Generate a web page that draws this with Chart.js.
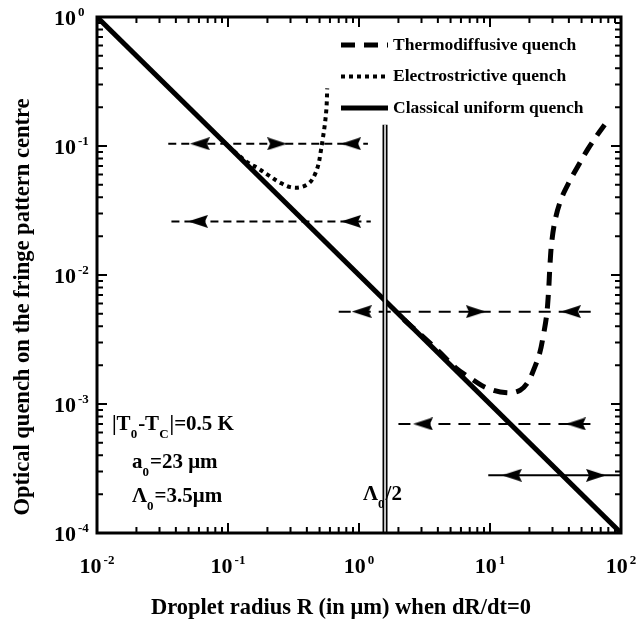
<!DOCTYPE html>
<html>
<head>
<meta charset="utf-8">
<script src="https://cdn.jsdelivr.net/npm/chart.js@4/dist/chart.umd.min.js"></script>
<style>
  html, body { margin: 0; padding: 0; background: #fff; }
  #wrap { width: 636px; height: 622px; position: relative; }
</style>
</head>
<body>
<div id="wrap"><canvas id="quenchChart"></canvas></div>
<script>
// decade labels on both axes
const xDecades = [-2, -1, 0, 1, 2];
const yDecades = [0, -1, -2, -3, -4];

// classical uniform quench (slope -1)
const classicalR = [0.01, 100];
const classicalQ = [1, 0.0001];

// electrostrictive quench
const electroR = [0.09, 0.11, 0.14, 0.17, 0.2, 0.25, 0.3, 0.36, 0.42, 0.46, 0.49, 0.51, 0.53, 0.55, 0.565, 0.572];
const electroQ = [0.111, 0.092, 0.075, 0.067, 0.06, 0.052, 0.048, 0.048, 0.052, 0.06, 0.072, 0.09, 0.115, 0.15, 0.2, 0.28];

// thermodiffusive quench
const thermoR = [2.2, 3, 4, 5.5, 7, 9.5, 13.5, 17, 19.5, 22, 24, 25.4, 27, 28, 28.7, 29.6, 31.5, 35, 40, 47, 56, 66, 75];
const thermoQ = [0.0045, 0.0034, 0.0026, 0.0019, 0.0016, 0.00133, 0.00122, 0.00128, 0.00148, 0.00194, 0.0025, 0.0033, 0.0048, 0.0075, 0.012, 0.018, 0.027, 0.039, 0.052, 0.07, 0.095, 0.122, 0.146];

// Λ0/2 marker
const lambdaR = [1.58, 1.58];
const lambdaQ = [0.146, 0.0001];

// stability arrows: level, extent, heads (+1 right, -1 left)
const arrowLevels = [0.104, 0.026, 0.0052, 0.0007, 0.00028];
const arrowFrom = [0.035, 0.037, 0.70, 2.0, 9.7];
const arrowTo = [1.17, 1.23, 65, 64, 100];
const arrowHeadR = [[0.061, 0.237, 0.87], [0.059, 0.87], [1.05, 7.8, 41.5], [3.08, 45.3], [14.7, 64.4]];
const arrowHeadDir = [[-1, 1, -1], [-1, -1], [-1, 1, -1], [-1, -1], [-1, 1]];
const arrowDash = [[8, 5], [8, 5], [12, 8], [12, 8], []];

const SERIF = '"Liberation Serif", "Times New Roman", serif';

function zip(xs, ys) {
    return xs.map((v, i) => ({ x: v, y: ys[i] }));
}

// filled arrowhead pointing right, used as point style
function makeHead() {
    const c = document.createElement('canvas');
    c.width = 20; c.height = 13;
    const g = c.getContext('2d');
    g.fillStyle = '#000';
    g.beginPath();
    g.moveTo(20, 6.5);
    g.lineTo(0, 0);
    g.lineTo(3, 6.5);
    g.lineTo(0, 13);
    g.closePath();
    g.fill();
    return c;
}
const headImg = makeHead();

function arrowDataset(i) {
    const pts = [{ x: arrowFrom[i], y: arrowLevels[i], r: 0, d: 0 }];
    arrowHeadR[i].forEach((r, k) => pts.push({ x: r, y: arrowLevels[i], r: 1, d: arrowHeadDir[i][k] }));
    pts.push({ x: arrowTo[i], y: arrowLevels[i], r: 0, d: 0 });
    pts.sort((a, b) => a.x - b.x);
    return {
        data: pts.map(p => ({ x: p.x, y: p.y })),
        borderColor: '#000',
        borderWidth: 2,
        borderDash: arrowDash[i],
        pointStyle: headImg,
        pointRadius: pts.map(p => p.r ? 10 : 0),
        pointRotation: pts.map(p => p.d < 0 ? 180 : 0),
        tension: 0
    };
}

function drawRich(ctx, parts, x, y, size) {
    let cx = x;
    parts.forEach(p => {
        const small = p.s ? Math.round(size * 0.6) : size;
        const dy = p.s === 'sub' ? size * 0.38 : p.s === 'sup' ? -size * 0.42 : 0;
        ctx.font = `bold ${small}px ${SERIF}`;
        ctx.fillText(p.t, cx, y + dy);
        cx += ctx.measureText(p.t).width + (p.gap || 0);
    });
    return cx - x;
}

function richWidth(ctx, parts, size) {
    let w = 0;
    parts.forEach(p => {
        const small = p.s ? Math.round(size * 0.6) : size;
        ctx.font = `bold ${small}px ${SERIF}`;
        w += ctx.measureText(p.t).width + (p.gap || 0);
    });
    return w;
}

const framePlugin = {
    id: 'framePlugin',
    afterDatasetsDraw(chart) {
        const { ctx, chartArea: a, scales: { x, y } } = chart;
        ctx.save();
        ctx.strokeStyle = '#000';
        ctx.fillStyle = '#000';
        ctx.lineWidth = 3;
        ctx.strokeRect(a.left, a.top, a.right - a.left, a.bottom - a.top);

        // inward ticks, all four sides
        ctx.lineWidth = 2;
        ctx.beginPath();
        for (let d = -2; d < 2; d++) {
            for (let m = 1; m < 10; m++) {
                const px = x.getPixelForValue(m * Math.pow(10, d));
                const len = m === 1 ? 10 : 6;
                ctx.moveTo(px, a.bottom); ctx.lineTo(px, a.bottom - len);
                ctx.moveTo(px, a.top); ctx.lineTo(px, a.top + len);
            }
        }
        for (let d = -4; d < 0; d++) {
            for (let m = 1; m < 10; m++) {
                const py = y.getPixelForValue(m * Math.pow(10, d));
                const len = m === 1 ? 10 : 6;
                ctx.moveTo(a.left, py); ctx.lineTo(a.left + len, py);
                ctx.moveTo(a.right, py); ctx.lineTo(a.right - len, py);
            }
        }
        ctx.stroke();

        // decade labels
        ctx.textBaseline = 'alphabetic';
        ctx.textAlign = 'left';
        xDecades.forEach(e => {
            const parts = [{ t: '10', gap: 2 }, { t: String(e), s: 'sup' }];
            const w = richWidth(ctx, parts, 22);
            drawRich(ctx, parts, x.getPixelForValue(Math.pow(10, e)) - w / 2, a.bottom + 40, 22);
        });
        yDecades.forEach(e => {
            ctx.font = `bold 22px ${SERIF}`;
            const w10 = ctx.measureText('10').width;
            const py = y.getPixelForValue(Math.pow(10, e));
            drawRich(ctx, [{ t: '10', gap: 2 }, { t: String(e), s: 'sup' }], a.left - 21 - w10, py + 8, 22);
        });

        // axis titles
        ctx.font = `bold 22.5px ${SERIF}`;
        ctx.textAlign = 'center';
        ctx.fillText('Droplet radius R (in \u03bcm) when dR/dt=0', 341, 614);
        ctx.save();
        ctx.translate(29, 307);
        ctx.rotate(-Math.PI / 2);
        ctx.fillText('Optical quench on the fringe pattern centre', 0, 0);
        ctx.restore();

        // parameters
        ctx.textAlign = 'left';
        drawRich(ctx, [{ t: '|T' }, { t: '0', s: 'sub', gap: 1 }, { t: '-T' }, { t: 'C', s: 'sub', gap: 1 }, { t: '|=0.5 K' }], 112, 430, 21);
        drawRich(ctx, [{ t: 'a' }, { t: '0', s: 'sub', gap: 1 }, { t: '=23 \u03bcm' }], 132, 468, 21);
        drawRich(ctx, [{ t: '\u039b' }, { t: '0', s: 'sub', gap: 1 }, { t: '=3.5\u03bcm' }], 132, 502, 21);
        drawRich(ctx, [{ t: '\u039b' }, { t: '0', s: 'sub', gap: 1 }, { t: '/2' }], 363, 500, 21);

        // legend
        const rows = chart.data.datasets.filter(ds => ds.inLegend);
        rows.forEach((ds, i) => {
            const ly = a.top + 28 + i * 31.5;
            ctx.save();
            ctx.lineWidth = ds.borderWidth;
            ctx.setLineDash(ds.borderDash || []);
            ctx.beginPath();
            ctx.moveTo(a.right - 280, ly);
            ctx.lineTo(a.right - 233, ly);
            ctx.stroke();
            ctx.restore();
            ctx.font = `bold 17.5px ${SERIF}`;
            ctx.textBaseline = 'middle';
            ctx.fillText(ds.label, a.right - 228, ly);
        });
        ctx.restore();
    }
};

const datasets = [
    {
        label: 'Thermodiffusive quench',
        inLegend: true,
        data: zip(thermoR, thermoQ),
        borderColor: '#000',
        borderWidth: 5,
        borderDash: [14, 9],
        pointRadius: 0,
        tension: 0.35
    },
    {
        label: 'Electrostrictive quench',
        inLegend: true,
        data: zip(electroR, electroQ),
        borderColor: '#000',
        borderWidth: 4,
        borderDash: [4, 4],
        pointRadius: 0,
        tension: 0.35
    },
    {
        label: 'Classical uniform quench',
        inLegend: true,
        data: zip(classicalR, classicalQ),
        borderColor: '#000',
        borderWidth: 5,
        pointRadius: 0
    },
    // double rule at Λ0/2: white core over a thick black stroke
    { data: zip(lambdaR, lambdaQ), borderColor: '#fff', borderWidth: 1.5, pointRadius: 0, order: -1 },
    { data: zip(lambdaR, lambdaQ), borderColor: '#000', borderWidth: 5, pointRadius: 0 }
];
arrowLevels.forEach((_, i) => datasets.push(arrowDataset(i)));

new Chart(document.getElementById('quenchChart'), {
    type: 'line',
    data: { datasets },
    options: {
        responsive: true,
        maintainAspectRatio: false,
        animation: false,
        layout: { padding: { left: 97, top: 17, right: 15, bottom: 89 } },
        plugins: { legend: { display: false }, tooltip: { enabled: false } },
        scales: {
            x: { type: 'logarithmic', min: 0.01, max: 100, display: false },
            y: { type: 'logarithmic', min: 0.0001, max: 1, display: false }
        }
    },
    plugins: [framePlugin]
});
</script>
</body>
</html>
